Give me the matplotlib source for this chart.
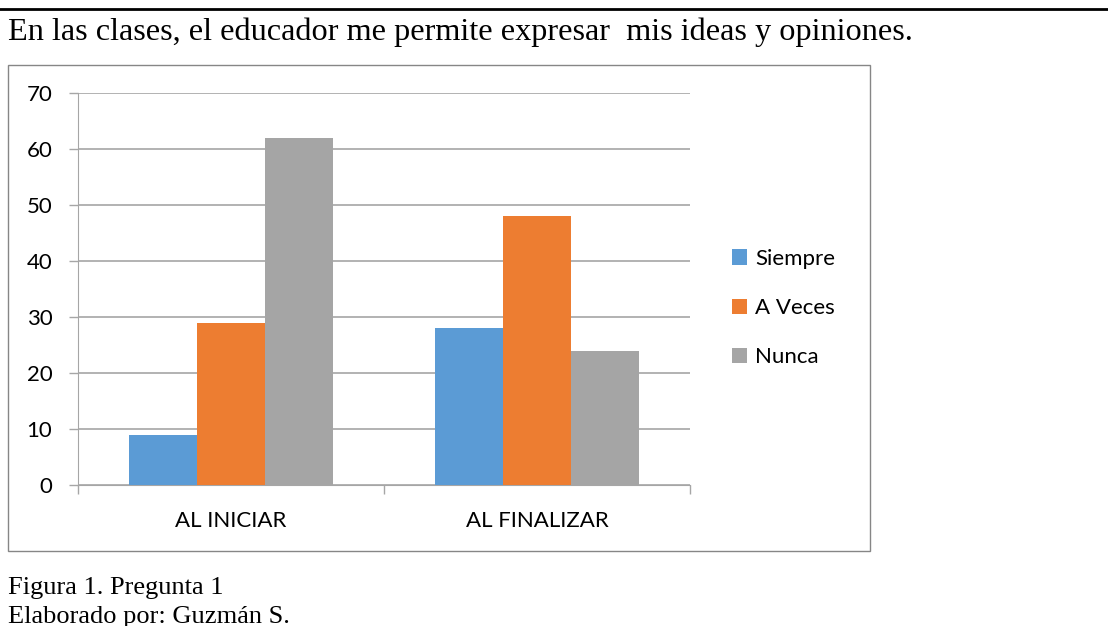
import numpy as np
import matplotlib.pyplot as plt
from matplotlib.patches import Rectangle, Patch
from matplotlib.lines import Line2D

# data
groups = ["AL INICIAR", "AL FINALIZAR"]
series = ["Siempre", "A Veces", "Nunca"]
siempre = [9, 28]
a_veces = [29, 48]
nunca = [62, 24]
colors = ["#5B9BD5", "#ED7D31", "#A5A5A5"]

W, H = 1108, 626
fig = plt.figure(figsize=(W / 100, H / 100), dpi=100)
fig.patch.set_facecolor("white")

serif = ["Liberation Serif", "DejaVu Serif"]
sans = ["Lato", "DejaVu Sans"]
fs = 16

# top rule
fig.add_artist(Line2D([0, 1], [1 - 8.5 / H, 1 - 8.5 / H], color="black", lw=2.0,
                      transform=fig.transFigure))

fig.text(8 / W, 1 - 40 / H, "En las clases, el educador me permite expresar  mis ideas y opiniones.",
         family=serif, fontsize=23.2, va="baseline", ha="left")

# chart frame
fig.add_artist(Rectangle((8 / W, 1 - 551 / H), 862 / W, 486 / H, transform=fig.transFigure,
                         facecolor="white", edgecolor="#868686", lw=1.0, zorder=0))

ax = fig.add_axes([78 / W, 1 - 485 / H, 612 / W, 392 / H])
ax.set_facecolor("none")

x = np.arange(len(groups))
bw = 0.222
for i, (vals, c) in enumerate(zip([siempre, a_veces, nunca], colors)):
    ax.bar(x + (i - 1) * bw, vals, width=bw, color=c, zorder=3, label=series[i])

ax.set_xlim(-0.5, 1.5)
ax.set_ylim(0, 70)
ax.set_yticks(range(0, 71, 10))
ax.set_xticks([-0.5, 0.5, 1.5], minor=False)
ax.set_xticklabels([])
ax.set_xticks(x, minor=True)
ax.set_xticklabels(groups, minor=True, family=sans, fontsize=fs)
ax.tick_params(axis="x", which="minor", length=0, pad=19)
ax.tick_params(axis="x", which="major", length=6.5, color="#A6A6A6", width=1)
ax.tick_params(axis="y", length=6.5, color="#A6A6A6", width=1, pad=12)
for lab in ax.get_yticklabels():
    lab.set_family(sans)
    lab.set_fontsize(fs)

ax.grid(axis="y", color="#A6A6A6", lw=1.2, zorder=0)
for s in ["top", "right"]:
    ax.spines[s].set_visible(False)
ax.spines["left"].set_color("#A6A6A6")
ax.spines["bottom"].set_color("#A6A6A6")

handles = [Patch(facecolor=c, label=s) for c, s in zip(colors, series)]
fig.legend(handles=handles, loc="center left", bbox_to_anchor=(712 / W, 1 - 308 / H),
           frameon=False, prop={"family": sans, "size": fs}, handlelength=0.68,
           handleheight=0.68, handletextpad=0.35, labelspacing=1.32)

fig.text(8 / W, 1 - 594 / H, "Figura 1. Pregunta 1", family=serif, fontsize=19,
         va="baseline", ha="left")
fig.text(8 / W, 1 - 623 / H, "Elaborado por: Guzmán S.", family=serif, fontsize=19,
         va="baseline", ha="left")

fig.savefig("out.png", dpi=100)
